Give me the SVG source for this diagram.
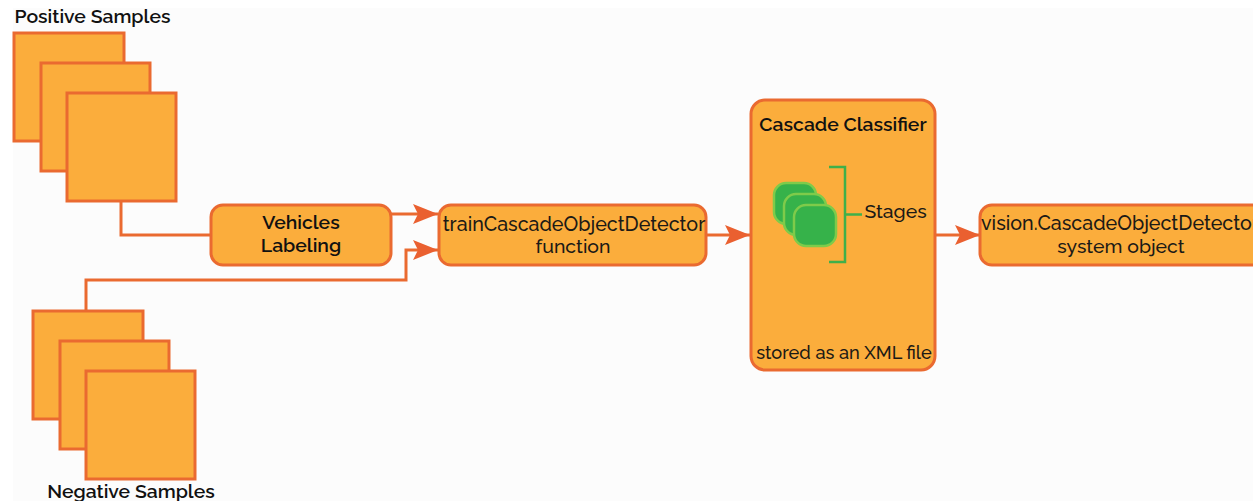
<svg xmlns="http://www.w3.org/2000/svg" width="1253" height="501" viewBox="0 0 1253 501">
<style>
.s{fill:#fbad3c;stroke:#ea6a30;stroke-width:3}
.c{fill:none;stroke:#ea6a30;stroke-width:3}
.g{fill:none;stroke:#3fb04a;stroke-width:2.5}
.k{fill:#36b24a;stroke:#7ecb4a;stroke-width:2.5}
.t{font-family:Raleway,"Open Sans","Noto Sans",sans-serif;font-size:19.4px;font-weight:500;fill:#1c1a16;text-anchor:middle}
.b{font-weight:600;fill:#111}
.w{font-size:19.7px}
</style>
<defs><marker id="a" markerUnits="userSpaceOnUse" markerWidth="26" markerHeight="22" refX="25" refY="11" orient="auto"><path d="M0 1L25 11L0 21L5 11Z" fill="#ea6030"/></marker></defs>
<rect width="1253" height="501" fill="#fff"/>
<rect x="13" y="8" width="1240" height="493" fill="#fcfcfc"/>
<g id="connectors">
<path class="c" d="M121 201V235H211"/>
<path class="c" d="M391 214H438" marker-end="url(#a)"/>
<path class="c" d="M86 311V280H406V250H438" marker-end="url(#a)"/>
<path class="c" d="M706 235H750" marker-end="url(#a)"/>
<path class="c" d="M935 235H980" marker-end="url(#a)"/>
</g>
<g id="positive-samples"><rect class="s" x="14" y="33" width="110" height="108"/><rect class="s" x="41" y="63" width="109" height="108"/><rect class="s" x="67" y="93" width="109" height="108"/><text class="t b" x="92.500" y="23">Positive Samples</text></g>
<g id="negative-samples"><rect class="s" x="33" y="311" width="110" height="108"/><rect class="s" x="60" y="341" width="109" height="108"/><rect class="s" x="86" y="371" width="109" height="108"/><text class="t b" x="131" y="498">Negative Samples</text></g>
<g id="vehicles-labeling"><rect class="s" x="211" y="205" width="180" height="60" rx="12"/><text class="t b" x="301" y="229">Vehicles</text><text class="t b" x="301" y="252">Labeling</text></g>
<g id="train-function"><rect class="s" x="439" y="205" width="267" height="60" rx="12"/><text class="t w" x="574" y="231">trainCascadeObjectDetector</text><text class="t" x="573" y="253">function</text></g>
<g id="cascade-classifier"><rect class="s" x="751" y="100" width="184" height="270" rx="14"/><text class="t b" x="843" y="131">Cascade Classifier</text>
<rect class="k" x="774" y="183" width="42" height="41" rx="12"/><rect class="k" x="784" y="194" width="42" height="41" rx="12"/><rect class="k" x="794" y="205" width="42" height="41" rx="12"/>
<path class="g" d="M829 167H845V262H829M845 214.500H862"/>
<text class="t" x="895.500" y="218">Stages</text><text class="t" style="font-size:18.2px" x="844" y="359">stored as an XML file</text></g>
<g id="system-object"><rect class="s" x="980" y="205" width="290" height="60" rx="12"/><text class="t w" x="1120" y="230">vision.CascadeObjectDetector</text><text class="t" x="1121" y="253">system object</text></g>
</svg>
